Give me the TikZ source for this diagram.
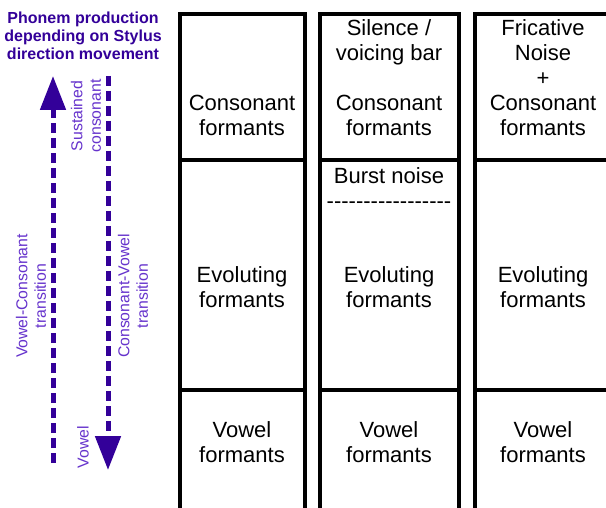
\documentclass[tikz,border=0pt]{standalone}
\usepackage{fontspec}
\setmainfont{Liberation Sans}
\usetikzlibrary{arrows.meta}
\definecolor{stylusdark}{HTML}{330099}
\definecolor{styluslight}{HTML}{6633CC}
\newcommand{\burstrule}{\foreach \i in {1,...,17}{-\kern0pt}}

\begin{document}
\begin{tikzpicture}[x=1pt,y=-1pt,
  box_line/.style={line width=4pt},
  cell_text/.style={font=\fontsize{22}{25}\selectfont,align=center,inner sep=0pt},
  title_text/.style={font=\bfseries\fontsize{16}{18}\selectfont,text=stylusdark,align=center,inner sep=0pt},
  label_text/.style={font=\fontsize{15.8}{18.5}\selectfont,text=styluslight,align=center,inner sep=0pt,rotate=90},
  stylus_arrow/.style={line width=5pt,draw=stylusdark,dash pattern=on 10pt off 5pt,-{Triangle[width=25pt,length=34pt]}}
  ]
  \useasboundingbox (0,0) rectangle (606,508);

%title
  \node (title) [title_text] at (83,36) {Phonem production\\depending on Stylus\\direction movement};

%stylus arrows
  \coordinate (vc_start) at (53,463);
  \coordinate (vc_end) at (53,76);
  \coordinate (cv_start) at (108,76);
  \coordinate (cv_end) at (108,470);
  \draw[stylus_arrow] (vc_start) -- (vc_end);
  \draw[stylus_arrow] (cv_start) -- (cv_end);

  \node (lab_sustained) [label_text] at (86,116) {Sustained\\consonant};
  \node (lab_vc) [label_text] at (31,296) {Vowel-Consonant\\transition};
  \node (lab_cv) [label_text] at (133,296) {Consonant-Vowel\\transition};
  \node (lab_vowel) [label_text] at (83,447) {Vowel};

%column 1
  \draw[box_line] (179.5,508) -- (179.5,14) -- (304.5,14) -- (304.5,508);
  \draw[box_line] (179.5,160.5) -- (304.5,160.5);
  \draw[box_line] (179.5,389.5) -- (304.5,389.5);
  \node (cons_1) [cell_text] at (242,115.5) {Consonant\\formants};
  \node (evol_1) [cell_text] at (242,287.5) {Evoluting\\formants};
  \node (vowel_1) [cell_text] at (242,442.5) {Vowel\\formants};

%column 2
  \draw[box_line] (319.5,508) -- (319.5,14) -- (459,14) -- (459,508);
  \draw[box_line] (319.5,160.5) -- (459,160.5);
  \draw[box_line] (319.5,389.5) -- (459,389.5);
  \node (silence_2) [cell_text] at (389,42.8) {Silence /\\voicing bar};
  \node (cons_2) [cell_text] at (389,115.5) {Consonant\\formants};
  \node (burst_2) [cell_text] at (389,188.5) {Burst noise\\\burstrule};
  \node (evol_2) [cell_text] at (389,287.5) {Evoluting\\formants};
  \node (vowel_2) [cell_text] at (389,442.5) {Vowel\\formants};

%column 3
  \draw[box_line] (475,508) -- (475,14) -- (606,14);
  \draw[box_line] (475,160.5) -- (606,160.5);
  \draw[box_line] (475,389.5) -- (606,389.5);
  \node (fric_3) [cell_text] at (543,78) {Fricative\\Noise\\+\\Consonant\\formants};
  \node (evol_3) [cell_text] at (543,287.5) {Evoluting\\formants};
  \node (vowel_3) [cell_text] at (543,442.5) {Vowel\\formants};

\end{tikzpicture}
\end{document}
